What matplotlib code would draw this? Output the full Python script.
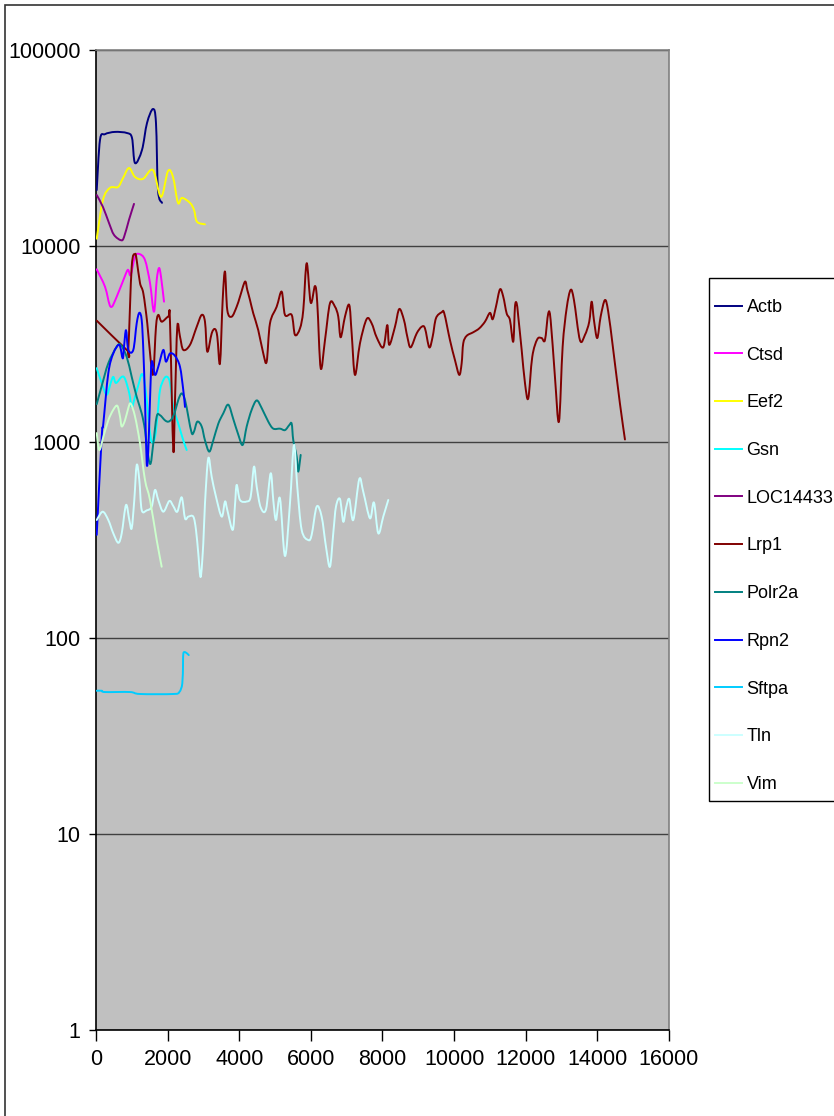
import numpy as np
import matplotlib
matplotlib.use("Agg")
import matplotlib.pyplot as plt
from matplotlib.patches import Rectangle, PathPatch
from matplotlib.path import Path
from matplotlib.lines import Line2D
from matplotlib.ticker import FixedLocator, FuncFormatter

plt.rcParams['font.family'] = ['Liberation Sans', 'DejaVu Sans']

### data (x = position, y = signal)
actb_x = [20, 112, 250, 530, 866, 1005, 1089, 1284, 1424, 1591, 1675, 1731, 1843]
actb_y = [19300, 34800, 37200, 38200, 37700, 35600, 26500, 30900, 42400, 50000, 42400, 19300, 16600]

ctsd_x = [20, 251, 408, 578, 838, 902, 969, 1089, 1209, 1368, 1508, 1619, 1695, 1759, 1815, 1899]
ctsd_y = [7600, 6200, 4900, 5510, 7260, 7540, 7110, 8820, 9100, 8480, 6480, 4620, 6710, 7720, 6970, 5200]

eef2_x = [20, 195, 391, 614, 754, 921, 1089, 1312, 1591, 1815, 2010, 2150, 2289, 2401, 2624, 2736, 2820, 3043]
eef2_y = [10900, 17200, 19800, 20000, 22200, 25000, 22500, 22000, 24400, 17800, 24100, 22500, 16600, 17600,
          16600, 15300, 13300, 12900]

gsn_x = [20, 159, 299, 410, 483, 558, 718, 810, 930, 997, 1089, 1209, 1276, 1340, 1416, 1488, 1555, 1647,
         1723, 1787, 1899, 1991, 2066, 2158, 2298, 2437, 2532]
gsn_y = [2380, 2000, 1740, 2000, 2150, 2000, 2150, 2100, 1770, 1510, 1700, 2030, 2220, 2100, 1640, 1200,
         1000, 1060, 1400, 1840, 2100, 2150, 2000, 1510, 1240, 1020, 910]

loc_x = [20, 195, 363, 502, 698, 782, 921, 1061]
loc_y = [18200, 15800, 13100, 11400, 10700, 11100, 13600, 16400]

lrp1_x = [20, 857, 902, 997, 1089, 1136, 1228, 1321, 1432, 1527, 1600, 1675, 1739, 1834, 2019, 2066, 2158,
          2206, 2270, 2345, 2437, 2624, 2812, 2951, 3043, 3108, 3230, 3322, 3387, 3462, 3537, 3602, 3666,
          3789, 3928, 4020, 4160, 4224, 4300, 4392, 4531, 4671, 4766, 4858, 5045, 5185, 5277, 5464, 5556,
          5696, 5788, 5883, 5995, 6115, 6179, 6274, 6394, 6533, 6673, 6765, 6832, 6952, 7072, 7139, 7231,
          7371, 7558, 7697, 7837, 8021, 8133, 8189, 8348, 8468, 8599, 8692, 8786, 8954, 9093, 9186, 9306,
          9401, 9493, 9652, 9725, 9884, 10023, 10143, 10210, 10255, 10350, 10534, 10702, 10861, 11000,
          11076, 11168, 11280, 11372, 11467, 11559, 11651, 11699, 11746, 11791, 11886, 11978, 12070, 12182,
          12321, 12444, 12536, 12628, 12695, 12815, 12927, 13030, 13142, 13253, 13346, 13513, 13653, 13773,
          13840, 13904, 13996, 14091, 14211, 14303, 14443, 14630, 14770]
lrp1_y = [4160, 2950, 2950, 7840, 9100, 8480, 6480, 5740, 4030, 2620, 2240, 3870, 4450, 4110, 4360, 4110, 910,
          1640, 3870, 3450, 2950, 3130, 3870, 4450, 4110, 2890, 3580, 3770, 3450, 2520, 5300, 7400, 4710,
          4360, 4900, 5510, 6580, 5970, 5300, 4530, 3720, 2830, 2570, 4030, 4900, 5850, 4450, 4450, 3520,
          3800, 4710, 8170, 5140, 6250, 5100, 2380, 3310, 5100, 4900, 4360, 3420, 4360, 5000, 3580, 2200,
          3190, 4240, 4030, 3420, 3040, 3950, 3130, 3870, 4770, 4190, 3450, 3040, 3580, 3870, 3800, 3040,
          3450, 4280, 4590, 4530, 3310, 2620, 2200, 2520, 3190, 3480, 3630, 3800, 4110, 4560,
          4230, 4900, 6010, 5510, 4530, 4190, 3250, 4900, 5100, 4360, 2950, 2000, 1670, 2720,
          3340, 3390, 3310, 4530, 4190, 2150, 1270, 3060, 4810, 5970, 5300, 3310, 3520, 4110,
          5200, 4190, 3390, 4360, 5300, 4620, 2950, 1570, 1030]

polr2a_x = [20, 159, 343, 578, 690, 857, 997, 1136, 1276, 1368, 1460, 1527, 1600, 1695, 1787, 1926, 2019, 2114,
            2206, 2298, 2393, 2485, 2577, 2672, 2736, 2828, 2951, 3043, 3163, 3275, 3415, 3554, 3694, 3833,
            3973, 4096, 4208, 4347, 4487, 4626, 4811, 4950, 5137, 5277, 5397, 5464, 5509, 5604, 5648, 5715]
polr2a_y = [1560, 1930, 2520, 3060, 3130, 2720, 2150, 1700, 1400, 1150, 841, 778, 985, 1350, 1370, 1290, 1270,
            1310, 1430, 1640, 1770, 1640, 1350, 1110, 1130, 1270, 1200, 1020, 893, 1020, 1240, 1400, 1550,
            1310, 1090, 966, 1200, 1460, 1630, 1490, 1270, 1170, 1170, 1150, 1220, 1240, 1020, 841, 706, 859]

rpn2_x = [20, 159, 204, 343, 483, 651, 745, 782, 838, 902, 1041, 1136, 1209, 1276, 1321, 1368, 1416, 1460,
          1508, 1555, 1647, 1739, 1879, 1954, 2066, 2206, 2345, 2437, 2485]
rpn2_y = [336, 1060, 1240, 2240, 2830, 3130, 2670, 3060, 3720, 2950, 2950, 4030, 4560, 4190, 2950, 1640, 778,
          910, 1640, 2570, 2200, 2420, 2950, 2570, 2830, 2750, 2420, 1840, 1510]

sftpa_x = [20, 159, 251, 949, 1228, 2158, 2326, 2410, 2430, 2440, 2500, 2590]
sftpa_y = [53.8, 53.8, 53.0, 53.0, 51.8, 51.8, 53.0, 58.7, 74.3, 83.6, 84.5, 81.8]

tln_x = [20, 187, 343, 483, 623, 718, 838, 930, 997, 1069, 1136, 1209, 1276, 1416, 1555, 1647, 1739, 1879,
         2047, 2158, 2270, 2393, 2485, 2577, 2717, 2792, 2856, 2923, 2996, 3043, 3135, 3230, 3350, 3510,
         3602, 3666, 3817, 3881, 3928, 4020, 4208, 4319, 4411, 4487, 4598, 4746, 4877, 4950, 5026, 5137,
         5277, 5416, 5528, 5620, 5743, 5927, 6022, 6162, 6301, 6422, 6533, 6625, 6701, 6812, 6904, 6980,
         7072, 7184, 7351, 7463, 7650, 7761, 7882, 8021, 8161]
tln_y = [400, 441, 400, 342, 306, 342, 477, 400, 363, 506, 763, 640, 450, 448, 468, 569, 506, 441,
         500, 471, 441, 522, 408, 416, 416, 356, 270, 205, 304, 486, 826, 665, 526, 416,
         497, 450, 356, 477, 604, 506, 497, 526, 748, 592, 464, 453, 692, 506, 400, 516,
         262, 486, 966, 592, 356, 316, 336, 468, 416, 292, 231, 342, 468, 512, 392, 459,
         512, 400, 646, 557, 408, 491, 342, 416, 506]

vim_x = [20, 92, 204, 343, 483, 595, 670, 718, 810, 902, 969, 1089, 1228, 1368, 1508, 1695, 1834]
vim_y = [1110, 910, 1060, 1290, 1460, 1530, 1350, 1200, 1290, 1490, 1570, 1350, 985, 640, 506, 316, 231]

series = [
    ("Actb", actb_x, actb_y, "#000080"),
    ("Ctsd", ctsd_x, ctsd_y, "#FF00FF"),
    ("Eef2", eef2_x, eef2_y, "#FFFF00"),
    ("Gsn", gsn_x, gsn_y, "#00FFFF"),
    ("LOC14433", loc_x, loc_y, "#800080"),
    ("Lrp1", lrp1_x, lrp1_y, "#800000"),
    ("Polr2a", polr2a_x, polr2a_y, "#008080"),
    ("Rpn2", rpn2_x, rpn2_y, "#0000FF"),
    ("Sftpa", sftpa_x, sftpa_y, "#00CCFF"),
    ("Tln", tln_x, tln_y, "#CCFFFF"),
    ("Vim", vim_x, vim_y, "#CCFFCC"),
]

x_ticks = [0, 2000, 4000, 6000, 8000, 10000, 12000, 14000, 16000]
y_ticks = [1, 10, 100, 1000, 10000, 100000]


### smoothed line like Excel: bezier segments through the points (x linear, y in log space)
def smooth_path(xs, ys):
    pts = np.column_stack([np.asarray(xs, float), np.log10(np.asarray(ys, float))])
    n = len(pts)
    verts = [pts[0]]
    codes = [Path.MOVETO]
    for i in range(n - 1):
        p0 = pts[i - 1] if i > 0 else pts[i]
        p1 = pts[i]
        p2 = pts[i + 1]
        p3 = pts[i + 2] if i + 2 < n else pts[i + 1]
        verts += [p1 + (p2 - p0) / 6, p2 - (p3 - p1) / 6, p2]
        codes += [Path.CURVE4] * 3
    v = np.array(verts)
    v[:, 1] = 10 ** v[:, 1]
    return Path(v, codes)


W, H = 834, 1116
fig = plt.figure(figsize=(W / 100, H / 100), dpi=100)
ax = fig.add_axes([96 / W, 1 - 1030 / H, (669 - 96) / W, (1030 - 50) / H])
ax.set_facecolor("#C0C0C0")

handles = []
for name, xs, ys, c in series:
    ax.add_patch(PathPatch(smooth_path(xs, ys), fill=False, edgecolor=c, lw=1.4,
                           joinstyle='round', capstyle='round', zorder=3))
    handles.append(Line2D([], [], color=c, lw=1.4, label=name))

ax.set_yscale("log")
ax.set_ylim(1, 100000)
ax.set_xlim(0, 16000)
ax.yaxis.set_major_locator(FixedLocator(y_ticks))
ax.yaxis.set_minor_locator(FixedLocator([]))
ax.yaxis.set_major_formatter(FuncFormatter(lambda v, p: "%d" % round(v)))
ax.set_xticks(x_ticks)
ax.set_xticklabels([str(t) for t in x_ticks])
ax.grid(axis="y", which="major", color="#404040", lw=1.0)
ax.set_axisbelow(True)

ax.tick_params(axis="y", direction="out", length=5, width=1, pad=6, labelsize=15.5)
ax.tick_params(axis="x", direction="out", length=8, width=1, pad=6, labelsize=15.5)
for s in ["left", "bottom"]:
    ax.spines[s].set_color("black")
    ax.spines[s].set_linewidth(1.2)
for s in ["top", "right"]:
    ax.spines[s].set_color("#808080")
    ax.spines[s].set_linewidth(1.2)

# legend box, drawn by hand so the entries can sit inside it freely
fig.patches.append(Rectangle((709 / W, 1 - 801 / H), 2, (801 - 278) / H, transform=fig.transFigure,
                             facecolor="white", edgecolor="black", lw=1.0, zorder=1))
leg = fig.legend(handles=handles, loc="upper left", bbox_to_anchor=(715 / W, 1 - 299 / H),
                 borderaxespad=0, borderpad=0, fontsize=13, frameon=False,
                 handlelength=1.5, handletextpad=0.25, labelspacing=1.7)

# outer chart frame
fig.patches.append(Rectangle((5 / W, -0.1), 2, 1 - 5 / H + 0.1, transform=fig.transFigure,
                             fill=False, edgecolor="#333333", lw=1.2))

fig.savefig("out.png", dpi=100)
